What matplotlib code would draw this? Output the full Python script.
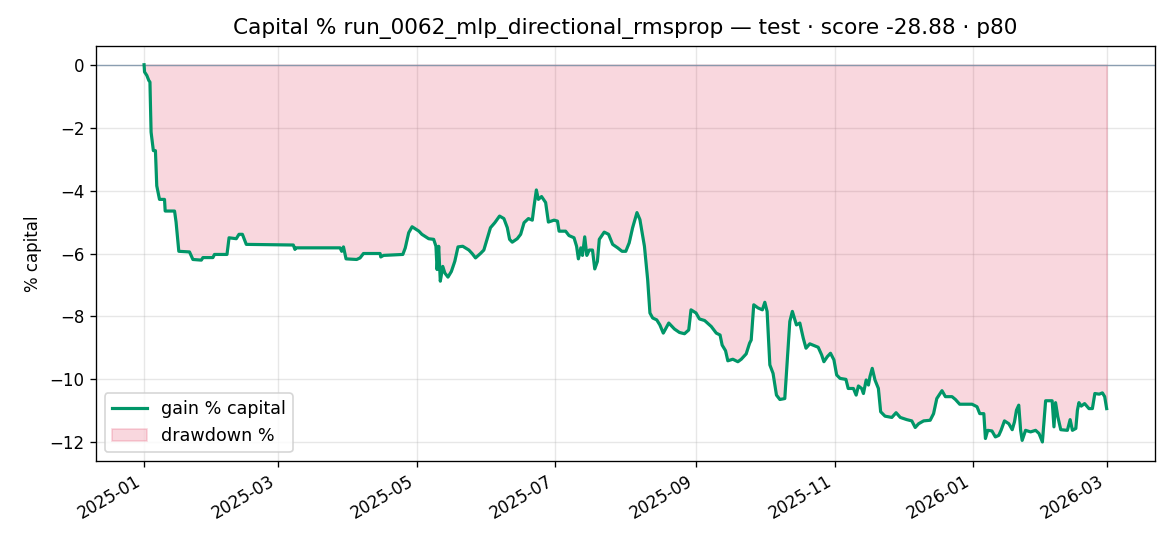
import numpy as np
import matplotlib
matplotlib.use("Agg")
import matplotlib.pyplot as plt
import matplotlib.dates as mdates

start_date = "2025-01-01"
# days since start_date (fractional days allowed)
days = [0, 0.2, 1.2, 2.1, 2.6, 3.1, 4.1, 5.0, 5.6, 6.8, 9.0, 9.3, 13.4, 14.1, 15.3, 20, 21.5, 25.2, 25.9, 30.3,
        31, 36.5, 37.4, 40.6, 41.8, 43.3, 45, 65.7, 66.4, 66.8, 86.3, 87, 87.8, 88.9, 93.6, 95.1, 96.6, 103.9, 104.2, 105.4,
        113.9, 115, 116.5, 118, 121, 122.3, 125.3, 127.5, 128.5, 129, 129.7, 130.4, 131.5, 132.4, 133.8, 135.3, 136.8, 138.2, 140.3, 143,
        144.4, 145.9, 148.1, 149.6, 151, 152.5, 154.4, 156.5, 158.4, 159.9, 160.9, 162.1, 164.3, 165.8, 167.3, 169.2, 170.9, 171.7, 172.7, 173.6,
        175, 176.8, 178, 180.5, 182, 182.7, 185.6, 187.1, 189.3, 190.4, 191.2, 192.3, 193, 194, 194.9, 196, 197.4, 198.4, 199.6, 200.4,
        202.6, 204.5, 206.3, 208.5, 210.4, 212.1, 213.6, 215.1, 217, 218.3, 220.3, 221.7, 222.7, 223.9, 225.7, 227.1, 228.6, 231, 233.5, 235.7,
        237.9, 239.8, 240.8, 243, 244.5, 246.8, 249.7, 251.9, 253.6, 254.5, 256, 257, 259.2, 261.4, 262.9, 265.1, 266.6, 267.3, 268.4, 270.3,
        272.2, 273.3, 274.3, 275.5, 276.9, 278.4, 279.9, 282.1, 283.1, 284.3, 285.4, 287.2, 288.7, 290.2, 291.4, 293.1, 296.8, 298.3, 299.3, 300.8,
        302.2, 303.7, 304.9, 306.4, 309, 310, 312.3, 313.5, 314.5, 315.9, 316.7, 317.9, 318.9, 319.6, 320.6, 321.8, 323.3, 324.3, 326.2, 329.2,
        331.1, 332.9, 335.8, 338, 339.5, 341, 343.2, 346.1, 347.6, 349, 351.3, 352.8, 355.7, 357.2, 359.1, 364.5, 366.7, 367.9, 369.7, 370.4,
        371.4, 373.3, 374.8, 376.3, 377.3, 378.8, 380.7, 382.2, 383.2, 384.1, 385.1, 385.9, 386.6, 388.1, 390.3, 392.5, 394, 395.5, 396.9, 399.8,
        400.6, 401.3, 402.3, 403.6, 406.5, 407.7, 408.7, 410.2, 410.9, 411.6, 412.6, 414.1, 416, 417.5, 418.6, 420.5, 421.9, 422.9, 423.8]
gain_pct = [0.0, -0.23, -0.34, -0.5, -0.55, -2.14, -2.73, -2.73, -3.85, -4.28, -4.28, -4.65, -4.65, -5.0, -5.93, -5.95, -6.19, -6.21, -6.13, -6.13,
            -6.03, -6.03, -5.5, -5.53, -5.39, -5.39, -5.71, -5.73, -5.87, -5.82, -5.82, -5.93, -5.79, -6.17, -6.19, -6.14, -6.0, -6.0, -6.11, -6.06,
            -6.03, -5.82, -5.34, -5.15, -5.29, -5.39, -5.53, -5.55, -5.77, -6.51, -5.77, -6.88, -6.41, -6.62, -6.75, -6.57, -6.25, -5.79, -5.77, -5.89,
            -6.0, -6.14, -6.0, -5.89, -5.55, -5.18, -5.02, -4.81, -4.89, -5.18, -5.55, -5.64, -5.53, -5.39, -5.02, -4.89, -4.94, -4.49, -3.98, -4.28,
            -4.19, -4.38, -5.0, -4.94, -4.97, -5.29, -5.29, -5.43, -5.50, -5.77, -6.17, -5.82, -6.06, -5.47, -6.06, -5.89, -5.89, -6.49, -6.25, -5.55,
            -5.32, -5.39, -5.71, -5.82, -5.93, -5.93, -5.66, -5.18, -4.70, -4.92, -5.77, -6.83, -7.89, -8.05, -8.11, -8.27, -8.53, -8.21, -8.40, -8.51,
            -8.55, -8.43, -7.79, -7.89, -8.08, -8.13, -8.32, -8.53, -8.59, -8.91, -9.09, -9.41, -9.36, -9.44, -9.36, -9.19, -8.85, -8.75, -7.63, -7.73,
            -7.79, -7.55, -7.84, -9.54, -9.81, -10.50, -10.64, -10.61, -9.49, -8.16, -7.84, -8.27, -8.21, -8.69, -9.01, -8.87, -8.98, -9.22, -9.44, -9.28,
            -9.17, -9.38, -9.86, -9.97, -10.0, -10.29, -10.29, -10.5, -10.21, -10.29, -10.45, -10.02, -10.18, -9.91, -9.65, -10.02, -10.29, -11.03, -11.17, -11.21,
            -11.06, -11.21, -11.28, -11.32, -11.53, -11.41, -11.32, -11.30, -11.09, -10.61, -10.36, -10.55, -10.55, -10.64, -10.79, -10.79, -10.87, -11.09, -11.09, -11.88,
            -11.62, -11.64, -11.83, -11.78, -11.62, -11.32, -11.41, -11.60, -11.35, -10.98, -10.82, -11.62, -11.94, -11.62, -11.67, -11.62, -11.72, -11.99, -10.68, -10.68,
            -11.51, -10.74, -11.19, -11.60, -11.62, -11.28, -11.62, -11.56, -10.98, -10.74, -10.85, -10.77, -10.93, -10.93, -10.45, -10.47, -10.43, -10.55, -10.93]

title = "Capital % run_0062_mlp_directional_rmsprop — test · score -28.88 · p80"

hours = np.round(np.array(days) * 24).astype(int)
dates = np.datetime64(start_date, "h") + hours.astype("timedelta64[h]")
gain = np.array(gain_pct)
peak = np.maximum.accumulate(gain)

fig = plt.figure(figsize=(9.75, 4.55), dpi=120)
ax = fig.add_axes([0.082, 0.156, 0.905, 0.76])
ax.plot(dates, gain, color="#009668", lw=1.9, label="gain % capital", zorder=3)
ax.fill_between(dates, gain, peak, color="crimson", alpha=0.17, label="drawdown %", zorder=2)
ax.axhline(0, color="#8096ab", lw=0.8, alpha=0.9, zorder=2.5)
ax.grid(True, alpha=0.3)
ax.set_ylabel("% capital")
ax.set_title(title, fontsize=13, pad=7)
ax.xaxis.set_major_locator(mdates.MonthLocator(bymonth=[1, 3, 5, 7, 9, 11]))
ax.xaxis.set_major_formatter(mdates.DateFormatter("%Y-%m"))
for lbl in ax.get_xticklabels():
    lbl.set_rotation(30)
    lbl.set_ha("right")
ax.legend(loc="lower left", fontsize=10.5)
fig.savefig("out.png", dpi=120)
